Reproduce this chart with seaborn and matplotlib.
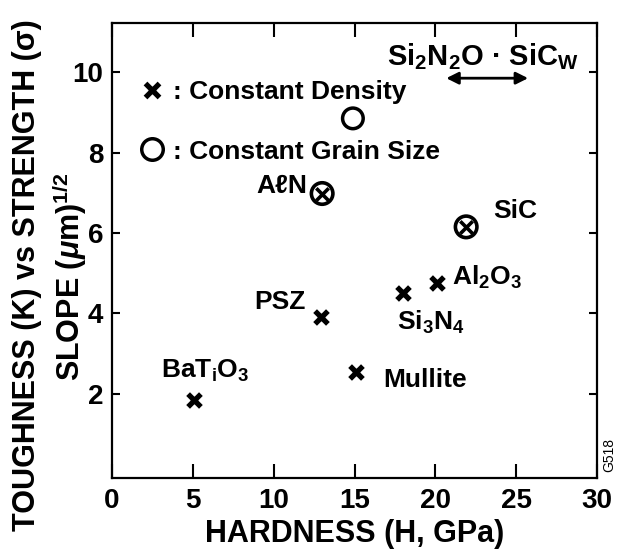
import matplotlib
matplotlib.use("Agg")
import matplotlib.pyplot as plt
from matplotlib.lines import Line2D
import seaborn as sns
import pandas as pd

# constant density (x markers)
density_names = ["BaT$_i$O$_3$", "PSZ", "Mullite", "Si$_3$N$_4$", "Al$_2$O$_3$"]
density_hardness = [5.1, 12.9, 15.1, 18.0, 20.1]
density_slope = [1.83, 3.9, 2.53, 4.5, 4.75]

# constant grain size (open circle)
grain_hardness = [14.9]
grain_slope = [8.85]

# both (circle with x)
both_names = ["A\u2113N", "SiC"]
both_hardness = [13.0, 21.9]
both_slope = [6.98, 6.15]

x_ticks = [0, 5, 10, 15, 20, 25, 30]
y_ticks = [2, 4, 6, 8, 10]

# label placement (data coords, baseline)
label_pos = {
    "BaT$_i$O$_3$": (3.05, 2.39, "left"),
    "PSZ": (11.95, 4.1, "right"),
    "Mullite": (16.8, 2.16, "left"),
    "Si$_3$N$_4$": (17.6, 3.58, "left"),
    "Al$_2$O$_3$": (21.0, 4.70, "left"),
    "A\u2113N": (12.05, 7.0, "right"),
    "SiC": (23.55, 6.37, "left"),
}

sns.set_theme(style="ticks")
plt.rcParams["font.family"] = ["Liberation Sans", "DejaVu Sans"]
plt.rcParams["font.weight"] = "bold"
plt.rcParams["text.color"] = "black"
plt.rcParams["axes.labelcolor"] = "black"
plt.rcParams["mathtext.fontset"] = "custom"
plt.rcParams["mathtext.rm"] = "Liberation Sans:bold"
plt.rcParams["mathtext.bf"] = "Liberation Sans:bold"
plt.rcParams["mathtext.it"] = "Liberation Sans:bold:italic"
plt.rcParams["mathtext.default"] = "rm"

density_df = pd.DataFrame({"hardness": density_hardness, "slope": density_slope})
grain_df = pd.DataFrame({"hardness": grain_hardness, "slope": grain_slope})
both_df = pd.DataFrame({"hardness": both_hardness, "slope": both_slope})

fig = plt.figure(figsize=(6.28, 5.51), dpi=100)
ax = fig.add_axes([0.178, 0.1325, 0.773, 0.8255])

sns.scatterplot(data=density_df, x="hardness", y="slope", marker="x", s=85,
                linewidth=3.8, color="black", ax=ax, zorder=3)
sns.scatterplot(data=grain_df, x="hardness", y="slope", marker="o", s=220,
                facecolor="none", edgecolor="black", linewidth=2.5, ax=ax, zorder=3)
sns.scatterplot(data=both_df, x="hardness", y="slope", marker="o", s=240,
                facecolor="none", edgecolor="black", linewidth=2.6, ax=ax, zorder=3)
sns.scatterplot(data=both_df, x="hardness", y="slope", marker="x", s=80,
                linewidth=2.6, color="black", ax=ax, zorder=4)

for name in density_names + both_names:
    tx, ty, ha = label_pos[name]
    ax.text(tx, ty, name, fontsize=19, fontweight="bold", ha=ha, va="baseline",
            color="black")

ax.text(17.0, 10.17, "Si$_2$N$_2$O \u00b7 SiC$_W$", fontsize=21, fontweight="bold",
        ha="left", va="baseline", color="black")
ax.annotate("", xy=(20.5, 9.85), xytext=(25.9, 9.85),
            arrowprops=dict(arrowstyle="<|-|>", color="black", lw=2, mutation_scale=18))

handles = [
    Line2D([], [], ls="none", marker="x", color="black", markersize=9.5, mew=3.8),
    Line2D([], [], ls="none", marker="o", mfc="none", mec="black", markersize=15.5, mew=2.5),
]
leg = ax.legend(handles, [": Constant Density", ": Constant Grain Size"], loc="upper left",
                bbox_to_anchor=(0.055, 0.875), frameon=False, fontsize=19, handlelength=1.0,
                handletextpad=0.3, borderpad=0, borderaxespad=0, labelspacing=1.35)
for t in leg.get_texts():
    t.set_color("black")

ax.set_xlim(0, 30)
ax.set_ylim(-0.1, 11.22)
ax.set_xticks(x_ticks)
ax.set_yticks(y_ticks)
ax.set_xticklabels([str(t) for t in x_ticks])
ax.set_yticklabels([str(t) for t in y_ticks])
ax.tick_params(axis="x", which="major", direction="in", length=10, width=1.5,
               top=True, labelsize=20, pad=7, colors="black")
ax.tick_params(axis="y", which="major", direction="in", length=6, width=1.5,
               right=True, labelsize=20, pad=6, colors="black")
for lbl in ax.get_xticklabels() + ax.get_yticklabels():
    lbl.set_fontweight("bold")
for sp in ax.spines.values():
    sp.set_visible(True)
    sp.set_linewidth(1.6)
    sp.set_color("black")

ax.set_xlabel("HARDNESS (H, GPa)", fontsize=22, fontweight="bold", labelpad=4,
              color="black")
ax.set_ylabel("")
fig.text(0.043, 1 - 275 / 551, "TOUGHNESS (K) vs STRENGTH (\u03c3)", rotation=90,
         fontsize=22, fontweight="bold", ha="center", va="center", color="black")
fig.text(0.111, 1 - 277 / 551, r"SLOPE ($\mathit{\mu}$m)$^{1/2}$", rotation=90,
         fontsize=22, fontweight="bold", ha="center", va="center", color="black")
fig.text(0.970, 1 - 455 / 551, "G518", rotation=90, fontsize=10, fontweight="normal",
         ha="center", va="center", color="black")

fig.savefig("out.png", dpi=100)
